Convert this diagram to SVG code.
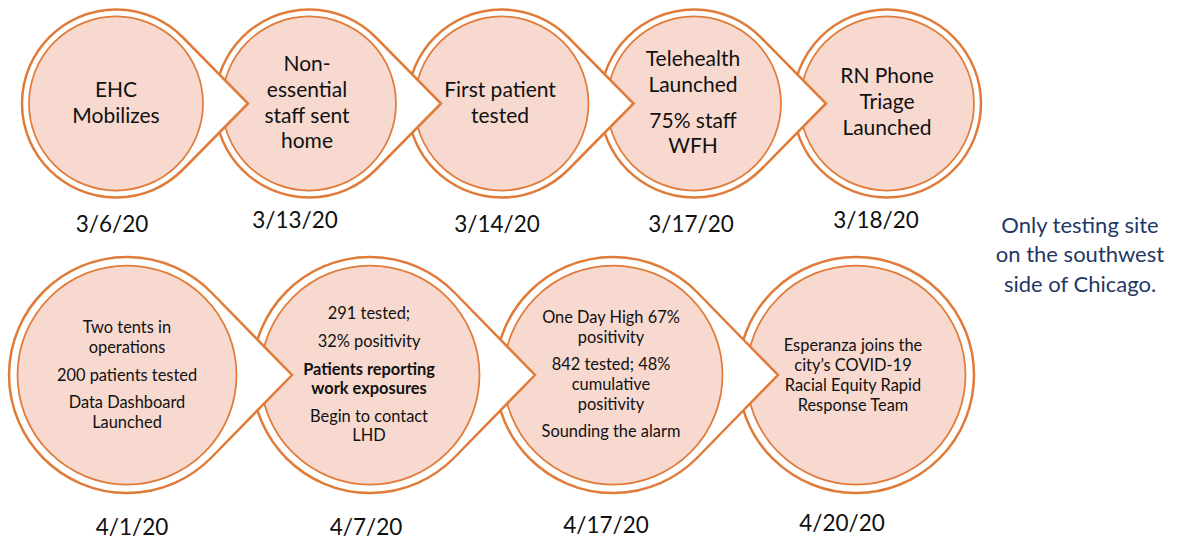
<svg xmlns="http://www.w3.org/2000/svg" width="1180" height="540" viewBox="0 0 1180 540">
<style>
.outer{fill:#ffffff;stroke:#E07B39;stroke-width:2.5;stroke-linejoin:miter}
.inner{fill:#F8D9CF;stroke:#E07B39;stroke-width:1.75}
.t{font-family:Lato,"Open Sans","Liberation Sans",sans-serif;text-anchor:middle;fill:#111111}
.big{font-size:21px}
.sm{font-size:16.4px}
.b{font-weight:bold}
.date{font-size:22.5px}
.side{font-family:Lato,"Open Sans","Liberation Sans",sans-serif;text-anchor:middle;fill:#1F3864;font-size:22px}
</style>
<rect width="1180" height="540" fill="#ffffff"/>

<!-- Top row (drawn last-to-first so pointers overlap the next node) -->
<g id="node5">
<circle class="outer" cx="887" cy="103.5" r="94"/>
<circle class="inner" cx="887" cy="103.5" r="87"/>
<text class="t big" x="887" y="83">RN Phone</text>
<text class="t big" x="887" y="109">Triage</text>
<text class="t big" x="887" y="135">Launched</text>
<text class="t date" x="876" y="228">3/18/20</text>
</g>
<g id="node4">
<path class="outer" d="M826,103.5 L760.94,169.5 A94,94 0 1 1 760.94,37.5 Z"/>
<circle class="inner" cx="694" cy="103.5" r="87"/>
<text class="t big" x="693" y="66">Telehealth</text>
<text class="t big" x="693" y="92">Launched</text>
<text class="t big" x="693" y="128">75% staff</text>
<text class="t big" x="693" y="153">WFH</text>
<text class="t date" x="691" y="232">3/17/20</text>
</g>
<g id="node3">
<path class="outer" d="M633.5,103.5 L568.44,169.5 A94,94 0 1 1 568.44,37.5 Z"/>
<circle class="inner" cx="501.5" cy="103.5" r="87"/>
<text class="t big" x="500" y="97">First patient</text>
<text class="t big" x="500" y="123">tested</text>
<text class="t date" x="497" y="232">3/14/20</text>
</g>
<g id="node2">
<path class="outer" d="M441,103.5 L375.94,169.5 A94,94 0 1 1 375.94,37.5 Z"/>
<circle class="inner" cx="309" cy="103.5" r="87"/>
<text class="t big" x="307" y="71">Non-</text>
<text class="t big" x="307" y="97">essential</text>
<text class="t big" x="307" y="123">staff sent</text>
<text class="t big" x="307" y="148">home</text>
<text class="t date" x="295" y="228">3/13/20</text>
</g>
<g id="node1">
<path class="outer" d="M248,103.5 L182.94,169.5 A94,94 0 1 1 182.94,37.5 Z"/>
<circle class="inner" cx="116" cy="103.5" r="87"/>
<text class="t big" x="116" y="97">EHC</text>
<text class="t big" x="116" y="123">Mobilizes</text>
<text class="t date" x="112" y="232">3/6/20</text>
</g>

<!-- Bottom row -->
<g id="node9">
<circle class="outer" cx="856" cy="375" r="118"/>
<circle class="inner" cx="856" cy="375" r="109.5"/>
<text class="t sm" x="853" y="351">Esperanza joins the</text>
<text class="t sm" x="853" y="371">city’s COVID-19</text>
<text class="t sm" x="853" y="391">Racial Equity Rapid</text>
<text class="t sm" x="853" y="411">Response Team</text>
<text class="t date" x="842" y="531">4/20/20</text>
</g>
<g id="node8">
<path class="outer" d="M778,375 L697.4,457.5 A118,118 0 1 1 697.4,292.5 Z"/>
<circle class="inner" cx="613" cy="375" r="109.5"/>
<text class="t sm" x="611" y="323">One Day High 67%</text>
<text class="t sm" x="611" y="343">positivity</text>
<text class="t sm" x="611" y="370">842 tested; 48%</text>
<text class="t sm" x="611" y="390">cumulative</text>
<text class="t sm" x="611" y="410">positivity</text>
<text class="t sm" x="611" y="437">Sounding the alarm</text>
<text class="t date" x="606" y="533">4/17/20</text>
</g>
<g id="node7">
<path class="outer" d="M535,375 L454.4,457.5 A118,118 0 1 1 454.4,292.5 Z"/>
<circle class="inner" cx="370" cy="375" r="109.5"/>
<text class="t sm" x="369" y="319">291 tested;</text>
<text class="t sm" x="369" y="347">32% positivity</text>
<text class="t sm b" x="369" y="375">Patients reporting</text>
<text class="t sm b" x="369" y="394">work exposures</text>
<text class="t sm" x="369" y="422">Begin to contact</text>
<text class="t sm" x="369" y="441">LHD</text>
<text class="t date" x="366" y="535">4/7/20</text>
</g>
<g id="node6">
<path class="outer" d="M292,375 L211.4,457.5 A118,118 0 1 1 211.4,292.5 Z"/>
<circle class="inner" cx="127" cy="375" r="109.5"/>
<text class="t sm" x="127" y="333">Two tents in</text>
<text class="t sm" x="127" y="353">operations</text>
<text class="t sm" x="127" y="381">200 patients tested</text>
<text class="t sm" x="127" y="408">Data Dashboard</text>
<text class="t sm" x="127" y="428">Launched</text>
<text class="t date" x="132" y="535">4/1/20</text>
</g>

<g id="note">
<text class="side" x="1080" y="233">Only testing site</text>
<text class="side" x="1080" y="262">on the southwest</text>
<text class="side" x="1080" y="292">side of Chicago.</text>
</g>
</svg>
